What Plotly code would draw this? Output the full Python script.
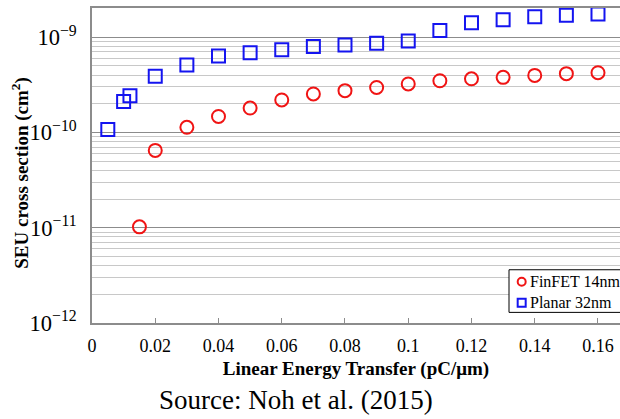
import plotly.graph_objects as go

# Linear energy transfer (pC/um) and SEU cross sections (cm^2)
let_planar = [0.005, 0.010, 0.012, 0.02, 0.03, 0.04, 0.05, 0.06, 0.07, 0.08,
              0.09, 0.10, 0.11, 0.12, 0.13, 0.14, 0.15, 0.16]
xs_planar = [1.07e-10, 2.11e-10, 2.43e-10, 3.87e-10, 5.09e-10, 6.34e-10, 6.86e-10,
             7.38e-10, 7.98e-10, 8.26e-10, 8.59e-10, 9.10e-10, 1.17e-9, 1.41e-9,
             1.52e-9, 1.63e-9, 1.69e-9, 1.75e-9]

let_finfet = [0.015, 0.02, 0.03, 0.04, 0.05, 0.06, 0.07, 0.08, 0.09, 0.10,
              0.11, 0.12, 0.13, 0.14, 0.15, 0.16]
xs_finfet = [1.02e-11, 6.47e-11, 1.13e-10, 1.47e-10, 1.80e-10, 2.19e-10, 2.53e-10,
             2.74e-10, 2.96e-10, 3.22e-10, 3.48e-10, 3.65e-10, 3.78e-10, 3.96e-10,
             4.13e-10, 4.23e-10]

x_ticks = [0, 0.02, 0.04, 0.06, 0.08, 0.1, 0.12, 0.14, 0.16]
x_tick_text = ["0", "0.02", "0.04", "0.06", "0.08", "0.1", "0.12", "0.14", "0.16"]

series_names = ["FinFET 14nm", "Planar 32nm"]

RED = "#f01414"
BLUE = "#1414f0"
SERIF = "Liberation Serif"

fig = go.Figure()

fig.add_trace(go.Scatter(
    x=let_finfet, y=xs_finfet, mode="markers", name=series_names[0],
    marker=dict(symbol="circle-open", size=13, color=RED, line=dict(width=2, color=RED)),
))
fig.add_trace(go.Scatter(
    x=let_planar, y=xs_planar, mode="markers", name=series_names[1],
    marker=dict(symbol="square-open", size=13, color=BLUE, line=dict(width=2, color=BLUE)),
))

# compact boxed legend in the lower right corner of the plot
leg_x0, leg_y0, leg_y1 = 0.7898, 0.0337, 0.169
row_y = [0.1311, 0.0644]
sym_x, text_x = 0.8138, 0.8258
shapes = [
    dict(type="rect", xref="paper", yref="paper", x0=leg_x0, x1=1.08, y0=leg_y0, y1=leg_y1,
         line=dict(color="black", width=1), fillcolor="white", layer="above"),
    dict(type="circle", xref="paper", yref="paper", xsizemode="pixel", ysizemode="pixel",
         xanchor=sym_x, yanchor=row_y[0], x0=-4, x1=4, y0=-4, y1=4,
         line=dict(color=RED, width=2), layer="above"),
    dict(type="rect", xref="paper", yref="paper", xsizemode="pixel", ysizemode="pixel",
         xanchor=sym_x, yanchor=row_y[1], x0=-4, x1=4, y0=-4, y1=4,
         line=dict(color=BLUE, width=2), layer="above"),
]
annotations = [
    dict(text=name, xref="paper", yref="paper", x=text_x, y=yy,
         xanchor="left", yanchor="middle", showarrow=False,
         font=dict(family=SERIF, size=16, color="black"))
    for name, yy in zip(series_names, row_y)
]
# vertical axis title
annotations.append(dict(
    text="<b>SEU cross section (cm<sup>2</sup>)</b>", xref="paper", yref="paper",
    x=-0.1345, y=0.477, xanchor="center", yanchor="middle", textangle=-90,
    showarrow=False, font=dict(family=SERIF, size=19, color="black"),
))
annotations.append(dict(
    text="Source: Noh et al. (2015)", xref="paper", yref="paper",
    x=0.386, y=-0.2435, xanchor="center", yanchor="middle", showarrow=False,
    font=dict(family=SERIF, size=27, color="black"),
))

fig.update_layout(
    width=620, height=419,
    margin=dict(l=92, r=0, t=8, b=96, autoexpand=False),
    paper_bgcolor="white", plot_bgcolor="white",
    font=dict(family=SERIF, size=18, color="black"),
    showlegend=False,
    shapes=shapes,
    annotations=annotations,
    xaxis=dict(
        range=[0, 0.16696],
        tickmode="array", tickvals=x_ticks, ticktext=x_tick_text,
        showgrid=False, zeroline=False,
        showline=True, linecolor="#8c8c8c", linewidth=1.5, mirror=True,
        ticks="inside", ticklen=5, tickcolor="#8c8c8c", tickwidth=1,
        ticklabelstandoff=6,
        tickfont=dict(family=SERIF, size=18),
        title=dict(text="<b>Linear Energy Transfer (pC/μm)</b>",
                   font=dict(family=SERIF, size=19), standoff=6),
    ),
    yaxis=dict(
        type="log", range=[-12, -8.695],
        dtick=1, exponentformat="power", showexponent="all",
        showgrid=True, gridcolor="#8c8c8c", gridwidth=1.3,
        minor=dict(dtick="D1", showgrid=True, gridcolor="#c8c8c8", gridwidth=1, ticks=""),
        zeroline=False,
        showline=True, linecolor="#8c8c8c", linewidth=1.5,
        ticks="", ticklabelstandoff=10,
        tickfont=dict(family=SERIF, size=18),
    ),
)

fig.write_html("out.html")
